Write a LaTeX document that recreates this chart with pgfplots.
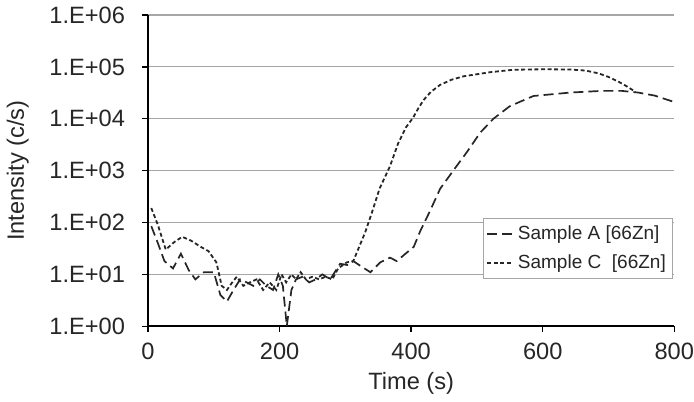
\documentclass[border=0pt]{standalone}
\usepackage{fontspec}
\setmainfont{Liberation Sans}
\usepackage{pgfplots}
\pgfplotsset{compat=1.18}

\definecolor{curve}{HTML}{262626}
\definecolor{gridgray}{HTML}{A6A6A6}

\begin{document}
\begin{tikzpicture}
\begin{axis}[
  scale only axis,
  width=263pt, height=155.5pt,
  xmin=0, xmax=800, ymode=log, ymin=1, ymax=1e6,
  axis x line=bottom, axis y line=left,
  axis line style={-, line width=0.8pt, black},
  xtick={0,200,400,600,800},
  ytick={1,10,100,1000,10000,100000,1000000},
  yticklabels={1.E+00,1.E+01,1.E+02,1.E+03,1.E+04,1.E+05,1.E+06},
  minor ytick={}, yminorticks=false,
  tick align=outside, major tick length=3pt,
  tick style={line width=0.7pt, black},
  ymajorgrids, grid style={gridgray, line width=0.6pt},
  /pgf/number format/assume math mode=true,
  ticklabel style={font=\fontsize{11.8}{13}\selectfont, text=black!85},
  yticklabel style={xshift=-5pt},
  xticklabel style={yshift=-2pt, inner xsep=0pt},
  label style={font=\fontsize{11.8}{13}\selectfont, text=black!85},
  xlabel={Time (s)}, ylabel={Intensity (c/s)},
  xlabel style={yshift=0.5pt},
  ylabel style={yshift=3.5pt},
  legend style={at={(0.998,0.347)}, anchor=north east, draw=gridgray,
    font=\fontsize{9.5}{11}\selectfont, text=black!85, inner sep=1.5pt,
    row sep=2pt, legend cell align=left},
  legend image code/.code={\draw[#1] (0pt,0pt) -- (13pt,0pt);},
]
\addplot[curve, line width=0.85pt, dash pattern=on 5pt off 2.5pt] coordinates {
(5,85)(15,40)(25,18)(38,13)(50,25)(62,12)(72,8)(85,11)(100,11)(110,4)(120,3)
(130,5)(140,8)(150,7)(160,6)(170,8)(180,6)(190,5)(198,10)(205,6)(211,1)(218,5)
(225,8)(235,9)(245,7)(255,8)(265,10)(277,8)(292,16)(305,15)(312,18)
(325,14)(338,11)(353,17)(368,21)(378,18)(404,34)(414,69)(428,160)
(444,445)(464,1000)(485,2300)(505,5400)(525,10000)(550,17500)(586,27500)
(642,32000)(690,34500)(720,34500)(745,32000)(770,28000)(800,21000)};
\addlegendentry{Sample A [66Zn]}
\addplot[curve, line width=0.9pt, dash pattern=on 2pt off 1.3pt] coordinates {
(5,190)(15,90)(27,30)(40,42)(52,53)(65,45)(80,34)(92,28)(104,17)(112,6)(120,5)
(128,7)(135,9)(145,6)(155,7)(165,8)(175,5)(185,7)(195,5)(203,10)(210,7)(218,10)
(225,8)(232,11)(240,8)(250,9)(260,8)(270,9)(280,8)(289,13)(302,17)(312,18)
(330,64)(340,150)(352,450)(368,1230)(380,3300)(392,6800)(403,10500)(411,16000)
(419,23000)(430,33000)(444,45000)(462,57000)(480,66000)(520,79000)(555,88000)(600,90000)
(642,89000)(665,85000)(685,75000)(700,64000)(715,52000)(728,42000)(741,33000)};
\addlegendentry{Sample C\ \ [66Zn]}
\end{axis}
\end{tikzpicture}
\end{document}
